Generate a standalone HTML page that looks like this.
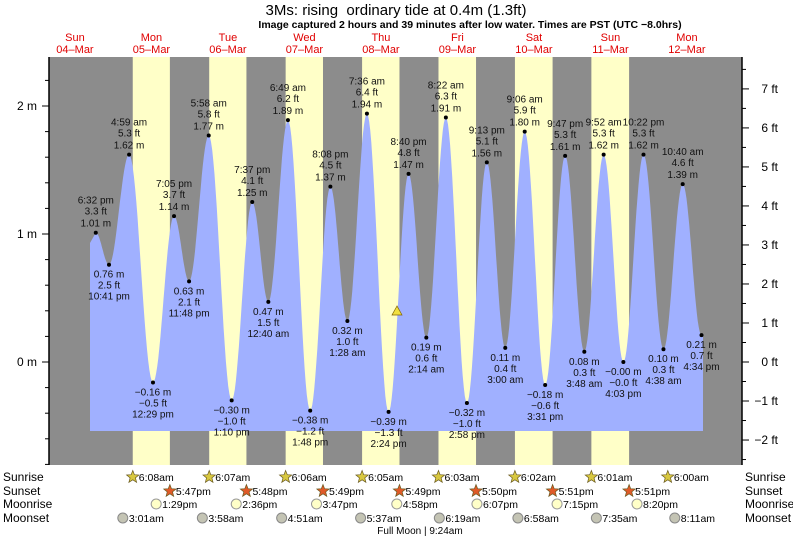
<!DOCTYPE html>
<html><head><meta charset="utf-8"><style>
body{margin:0;background:#fff;}
svg{display:block;font-family:"Liberation Sans",sans-serif;}
</style></head><body>
<svg id="s" width="793" height="539" xmlns="http://www.w3.org/2000/svg"></svg>
<script>
const S=document.getElementById('s');
const X0=113.2,D=76.5,Y0=362,M=128;
const X=t=>X0+t*D, Y=m=>Y0-m*M;
let h='';
h+='<text x="396" y="15" font-size="15" text-anchor="middle" style="white-space:pre">3Ms: rising  ordinary tide at 0.4m (1.3ft)</text>';
h+='<text x="470" y="28" font-size="10.5" font-weight="bold" text-anchor="middle">Image captured 2 hours and 39 minutes after low water. Times are PST (UTC −8.0hrs)</text>';
const days=[['Sun','04–Mar'],['Mon','05–Mar'],['Tue','06–Mar'],['Wed','07–Mar'],['Thu','08–Mar'],['Fri','09–Mar'],['Sat','10–Mar'],['Sun','11–Mar'],['Mon','12–Mar']];
days.forEach((d,i)=>{const x=X(i-1+0.5);h+=`<text x="${x}" y="41" font-size="11" fill="#e00000" text-anchor="middle">${d[0]}</text><text x="${x}" y="53" font-size="11" fill="#e00000" text-anchor="middle">${d[1]}</text>`;});
h+='<rect x="49" y="57" width="693" height="408" fill="#8c8c8c"/>';
const tm=s=>{let [a,b]=s.split(/[: ]/);a=+a;b=+b;const pm=s.includes('pm');if(pm&&a!=12)a+=12;if(!pm&&a==12)a=0;return (a+b/60)/24;};
const sr=['6:08am','6:07am','6:06am','6:05am','6:03am','6:02am','6:01am','6:00am'];
const ss=['5:47pm','5:48pm','5:49pm','5:49pm','5:50pm','5:51pm','5:51pm'];
const mr=['1:29pm','2:36pm','3:47pm','4:58pm','6:07pm','7:15pm','8:20pm'];
const ms=['3:01am','3:58am','4:51am','5:37am','6:19am','6:58am','7:35am','8:11am'];
const tf=s=>tm(s.replace('am',' am').replace('pm',' pm'));
for(let i=0;i<7;i++){const a=X(i+tf(sr[i])),b=X(i+tf(ss[i]));h+=`<rect x="${a}" y="57" width="${b-a}" height="408" fill="#ffffc8"/>`;}
const T=[[-1,'6:32 pm',1.01],[-1,'10:41 pm',0.76],[0,'4:59 am',1.62],[0,'12:29 pm',-0.16],[0,'7:05 pm',1.14],[0,'11:48 pm',0.63],[1,'5:58 am',1.77],[1,'1:10 pm',-0.30],[1,'7:37 pm',1.25],[2,'12:40 am',0.47],[2,'6:49 am',1.89],[2,'1:48 pm',-0.38],[2,'8:08 pm',1.37],[3,'1:28 am',0.32],[3,'7:36 am',1.94],[3,'2:24 pm',-0.39],[3,'8:40 pm',1.47],[4,'2:14 am',0.19],[4,'8:22 am',1.91],[4,'2:58 pm',-0.32],[4,'9:13 pm',1.56],[5,'3:00 am',0.11],[5,'9:06 am',1.80],[5,'3:31 pm',-0.18],[5,'9:47 pm',1.61],[6,'3:48 am',0.08],[6,'9:52 am',1.62],[6,'4:03 pm',-0.00],[6,'10:22 pm',1.62],[7,'4:38 am',0.10],[7,'10:40 am',1.39],[7,'4:34 pm',0.21]];
const P=T.map(e=>[X(e[0]+tm(e[1])),Y(e[2]),e]);
let pts=[[90,Y(0.93)]];
for(let i=0;i<P.length-1;i++){const [x1,y1]=P[i],[x2,y2]=P[i+1];for(let k=0;k<20;k++){const f=k/20;pts.push([x1+(x2-x1)*f,y1+(y2-y1)*(1-Math.cos(Math.PI*f))/2]);}}
pts.push([P[P.length-1][0],P[P.length-1][1]]);pts.push([703,Y(0.22)]);
h+=`<path d="M90,431 ${pts.map(p=>'L'+p[0].toFixed(1)+','+p[1].toFixed(1)).join(' ')} L703,431 Z" fill="#a0b0ff"/>`;
const ft=m=>{let v=(m/0.3048).toFixed(1);if(m<=0&&v[0]!='-')v='-'+v;return v.replace('-','−');};
const mm=m=>{let v=m.toFixed(2);if(m<=0&&v[0]!='-'&&m!==0.0||Object.is(m,-0))v='-'+v;return v.replace('-','−');};
P.forEach((p,i)=>{const [x,y,e]=p;const hi=i%2==0;h+=`<circle cx="${x}" cy="${y}" r="2" fill="#000"/>`;
const ms2=(e[2]===0&&i==27)?'−0.00':mm(e[2]);const fs=(i==27)?'−0.0':ft(e[2]);
const L=hi?[[y-29,e[1]],[y-18,fs+' ft'],[y-6,ms2+' m']]:[[y+13,ms2+' m'],[y+24,fs+' ft'],[y+35,e[1]]];
L.forEach(l=>h+=`<text x="${x}" y="${l[0]}" font-size="10" fill="#111" text-anchor="middle">${l[1]}</text>`);});
h+=`<polygon points="397,306 392,315 402,315" fill="#f0e040" stroke="#806000" stroke-width="0.7"/>`;
h+='<line x1="49" y1="57" x2="49" y2="465" stroke="#000" stroke-width="1.5"/><line x1="742" y1="57" x2="742" y2="465" stroke="#000" stroke-width="1.5"/>';
for(let m=-0.8;m<=2.4;m+=0.2){const y=Y(m);if(y<57||y>465)continue;const maj=Math.abs(m-Math.round(m))<0.01;h+=`<line x1="${maj?42:45}" y1="${y}" x2="49" y2="${y}" stroke="#000"/>`;if(maj)h+=`<text x="37" y="${y+4}" font-size="12" text-anchor="end">${Math.round(m)} m</text>`;}
for(let f=-2.5;f<=7.5;f+=0.5){const y=Y(f*0.3048);if(y<57||y>465)continue;const maj=f%1==0;h+=`<line x1="742" y1="${y}" x2="${maj?749:746}" y2="${y}" stroke="#000"/>`;if(maj)h+=`<text x="778" y="${y+4}" font-size="12" text-anchor="end">${f<0?'−'+(-f):f} ft</text>`;}
const star=(x,y,c)=>{let s='';for(let k=0;k<10;k++){const r=k%2?2.8:6.5,a=-Math.PI/2+k*Math.PI/5;s+=(x+r*Math.cos(a)).toFixed(1)+','+(y+r*Math.sin(a)).toFixed(1)+' ';}return `<polygon points="${s}" fill="${c}" stroke="#6a5a20" stroke-width="0.7"/>`;};
const rows=[['Sunrise',477],['Sunset',491],['Moonrise',504],['Moonset',518]];
rows.forEach(r=>{h+=`<text x="3" y="${r[1]+4}" font-size="12">${r[0]}</text><text x="745" y="${r[1]+4}" font-size="12">${r[0]}</text>`;});
sr.forEach((t,i)=>{const x=X(i+tf(t));h+=star(x,477,'#d8c840')+`<text x="${x+6}" y="481" font-size="10.5">${t}</text>`;});
ss.forEach((t,i)=>{const x=X(i+tf(t));h+=star(x,491,'#e05a28')+`<text x="${x+6}" y="495" font-size="10.5">${t}</text>`;});
mr.forEach((t,i)=>{const x=X(i+tf(t));h+=`<circle cx="${x}" cy="504" r="5" fill="#ffffc8" stroke="#999"/><text x="${x+6}" y="508" font-size="10.5">${t}</text>`;});
ms.forEach((t,i)=>{const x=X(i+tf(t));h+=`<circle cx="${x}" cy="518" r="5" fill="#c4c4b4" stroke="#888"/><text x="${x+6}" y="522" font-size="10.5">${t}</text>`;});
h+='<text x="420" y="534" font-size="10" text-anchor="middle">Full Moon | 9:24am</text>';
S.innerHTML=h;
</script>
</body></html>
